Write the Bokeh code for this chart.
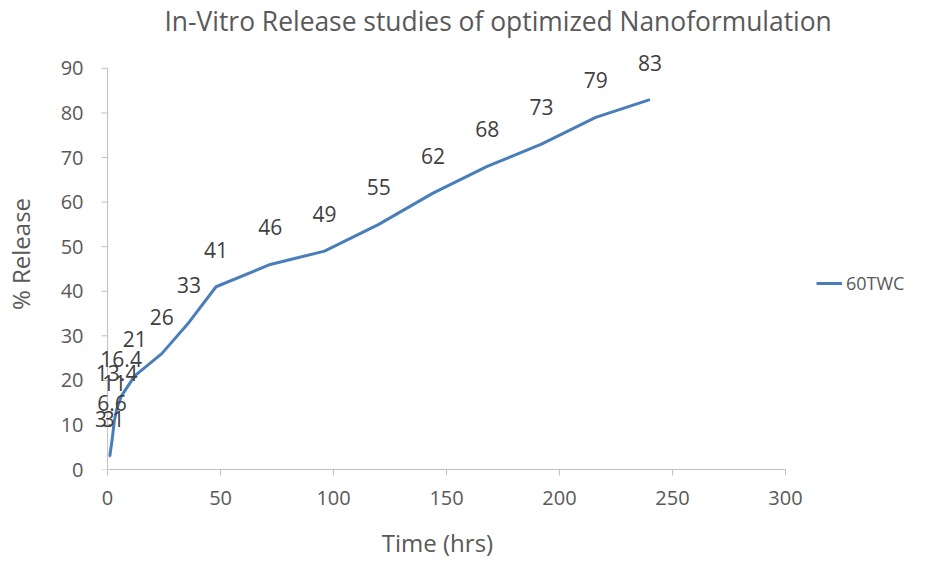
import math
from bokeh.plotting import figure
from bokeh.models import (Range1d, ColumnDataSource, LabelSet, Legend, LegendItem,
                          FixedTicker, SingleIntervalTicker)
from bokeh.core.properties import value
from bokeh.embed import file_html
from bokeh.resources import INLINE

time_hrs = [0.5, 1, 2, 3, 4, 6, 12, 24, 36, 48, 72, 96, 120, 144, 168, 192, 216, 240]
release = [3, 3.1, 6.6, 11, 13.4, 16.4, 21, 26, 33, 41, 46, 49, 55, 62, 68, 73, 79, 83]
labels = ["3", "3.1", "6.6", "11", "13.4", "16.4", "21", "26", "33", "41", "46", "49",
          "55", "62", "68", "73", "79", "83"]
y_ticks = [0, 10, 20, 30, 40, 50, 60, 70, 80, 90]
series_name = "60TWC"
chart_title = "In-Vitro Release studies of optimized Nanoformulation"

FONT = "Open Sans"
GRAY = "#595959"
AXIS_GRAY = "#bfbfbf"

p = figure(frame_width=696, frame_height=431, output_backend="svg", toolbar_location=None,
           x_range=Range1d(-8, 300), y_range=Range1d(0, 96.7),
           min_border_left=82, min_border_right=137, min_border_top=30, min_border_bottom=86)
p.outline_line_color = None
p.grid.grid_line_color = None

p.title.text = chart_title
p.title.text_font = FONT
p.title.text_font_size = "26.4px"
p.title.text_font_style = "normal"
p.title.text_color = GRAY
p.title.text_line_height = 1.0
p.title.align = "left"
p.title.offset = 75
p.title.standoff = 0

xax = p.xaxis[0]
xax.ticker = SingleIntervalTicker(interval=50)
xax.bounds = (0, 300)
xax.axis_line_color = AXIS_GRAY
xax.major_tick_line_color = AXIS_GRAY
xax.major_tick_in = 0
xax.major_tick_out = 6
xax.minor_tick_line_color = None
xax.major_label_text_font = FONT
xax.major_label_text_font_size = "20px"
xax.major_label_text_color = GRAY
xax.major_label_standoff = 15
xax.axis_label = "Time (hrs)"
xax.axis_label_text_font = FONT
xax.axis_label_text_font_size = "24px"
xax.axis_label_text_font_style = "normal"
xax.axis_label_text_color = GRAY
xax.axis_label_text_line_height = 1.0
xax.axis_label_standoff = 18

yax = p.yaxis[0]
yax.ticker = FixedTicker(ticks=y_ticks)
yax.bounds = (0, 90)
yax.axis_line_color = None
yax.major_tick_line_color = None
yax.minor_tick_line_color = None
yax.major_label_text_font = FONT
yax.major_label_text_font_size = "20px"
yax.major_label_text_color = GRAY
yax.major_label_standoff = 0
yax.axis_label = "% Release"
yax.axis_label_text_font = FONT
yax.axis_label_text_font_size = "24px"
yax.axis_label_text_font_style = "normal"
yax.axis_label_text_color = GRAY
yax.axis_label_text_line_height = 1.0
yax.axis_label_standoff = 21

# y axis line and outward ticks at x = 0
p.segment(x0=[0], y0=[min(y_ticks)], x1=[0], y1=[max(y_ticks)], line_color=AXIS_GRAY, line_width=1)
p.ray(x=[0] * len(y_ticks), y=y_ticks, length=6, length_units="screen", angle=math.pi,
      line_color=AXIS_GRAY, line_width=1)

src = ColumnDataSource(dict(x=time_hrs, y=release, t=labels))
r = p.line("x", "y", source=src, line_color="#4a7ebb", line_width=3)

ls = LabelSet(x="x", y="y", text="t", source=src, y_offset=37, text_align="center",
              text_baseline="middle", text_font=value(FONT), text_font_size=value("21px"),
              text_color="#404040")
p.add_layout(ls)

legend = Legend(items=[LegendItem(label=series_name, renderers=[r])], location=(31, 174),
                border_line_color=None, background_fill_alpha=0,
                label_text_font=FONT, label_text_font_size="18px", label_text_color=GRAY,
                glyph_width=26, glyph_height=20, label_height=20, label_standoff=4,
                margin=0, padding=0)
p.add_layout(legend, "right")

open("out.html", "w").write(file_html(p, INLINE))
